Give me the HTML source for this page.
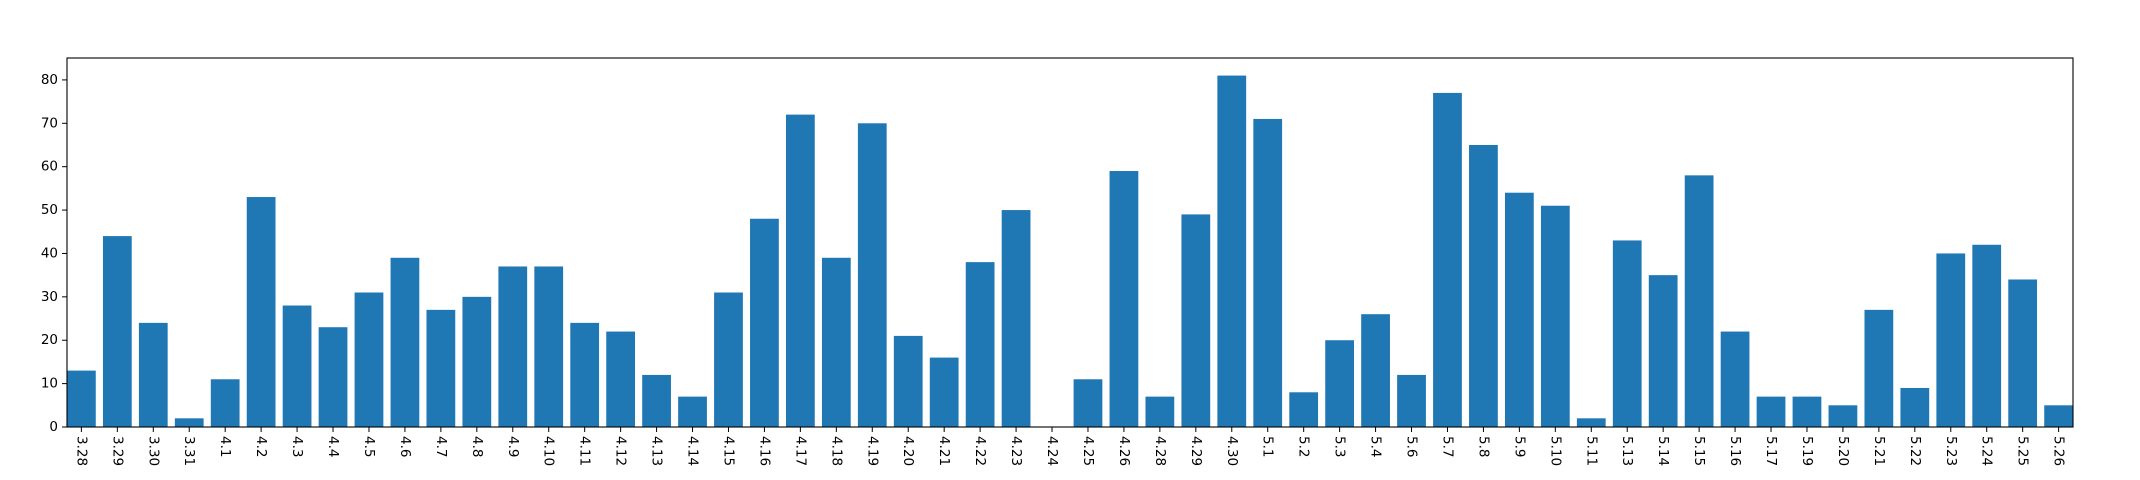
<!DOCTYPE html>
<html><head><meta charset="utf-8"><style>
html,body{margin:0;padding:0;background:#fff;}
svg{display:block;font-family:"DejaVu Sans","Liberation Sans",sans-serif;}
</style></head><body>
<svg id="chart" width="2140" height="480" xmlns="http://www.w3.org/2000/svg"></svg>
<script>
const categories = ["3.28","3.29","3.30","3.31","4.1","4.2","4.3","4.4","4.5","4.6","4.7","4.8","4.9","4.10","4.11","4.12","4.13","4.14","4.15","4.16","4.17","4.18","4.19","4.20","4.21","4.22","4.23","4.24","4.25","4.26","4.28","4.29","4.30","5.1","5.2","5.3","5.4","5.6","5.7","5.8","5.9","5.10","5.11","5.13","5.14","5.15","5.16","5.17","5.19","5.20","5.21","5.22","5.23","5.24","5.25","5.26"];
const values = [13,44,24,2,11,53,28,23,31,39,27,30,37,37,24,22,12,7,31,48,72,39,70,21,16,38,50,0,11,59,7,49,81,71,8,20,26,12,77,65,54,51,2,43,35,58,22,7,7,5,27,9,40,42,34,5];
const yTicks = [0,10,20,30,40,50,60,70,80];

const svg = document.getElementById('chart');
const NS = 'http://www.w3.org/2000/svg';
const L = 67, R = 2073, T = 58, B = 427;
const yMax = Math.max(...values) * 1.05;
const xMin = -0.4, xMax = categories.length - 1 + 0.4;
const xs = v => L + (v - xMin) / (xMax - xMin) * (R - L);
const ys = v => B - v / yMax * (B - T);
function mk(tag, attrs){const e=document.createElementNS(NS,tag);for(const k in attrs)e.setAttribute(k,attrs[k]);svg.appendChild(e);return e;}

values.forEach((v,i)=>{
  const r = mk('rect',{x:xs(i-0.4),y:ys(v),width:xs(i+0.4)-xs(i-0.4),height:B-ys(v),fill:'#1f77b4'});
  
  
});
categories.forEach((c,i)=>{
  const x = xs(i);
  const tk = mk('line',{x1:x,x2:x,y1:B,y2:B+5,stroke:'#000','stroke-width':1});
  
  
  const t = mk('text',{x:0,y:0,'font-size':13.5,fill:'#000','dominant-baseline':'central',transform:`translate(${x},${B+9}) rotate(90)`});
  t.textContent = c;
  
  
});
yTicks.forEach(v=>{
  const y = ys(v);
  const tk = mk('line',{x1:L-5,x2:L,y1:y,y2:y,stroke:'#000','stroke-width':1});
  
  
  const t = mk('text',{x:L-9,y:y,'font-size':13.5,fill:'#000','text-anchor':'end','dominant-baseline':'central'});
  t.textContent = v;
  
  
});
const frame = mk('rect',{x:L,y:T,width:R-L,height:B-T,fill:'none',stroke:'#000','stroke-width':1.1});


</script>
</body></html>
